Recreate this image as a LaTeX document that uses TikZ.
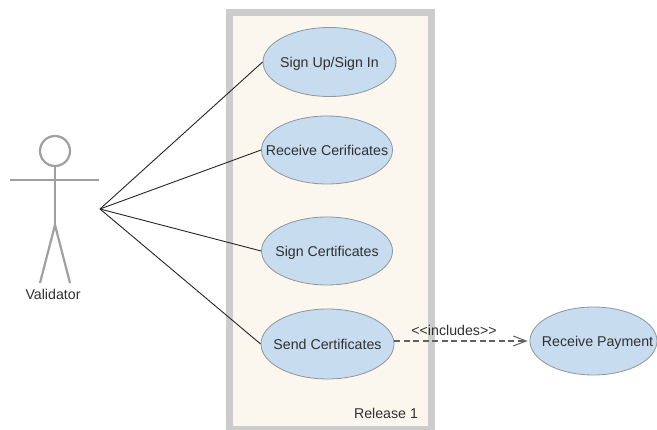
\documentclass[tikz,border=0pt]{standalone}
\usepackage{fontspec}
\setmainfont{Liberation Sans}
\usetikzlibrary{shapes.geometric,arrows.meta}
\definecolor{ufill}{HTML}{C8DCF0}
\definecolor{uline}{HTML}{8C969E}
\definecolor{frameg}{HTML}{CCCCCC}
\definecolor{paper}{HTML}{FCF7EE}
\definecolor{actorg}{HTML}{A0A0A0}
\definecolor{inkc}{HTML}{303030}
\newcommand{\uctext}[1]{\makebox[0pt]{\raisebox{-5.5pt}[0pt][0pt]{#1}}}
\tikzset{
  usecase/.style={ellipse,draw=uline,fill=ufill,line width=0.8pt,inner sep=0pt,text=inkc,font=\fontsize{14.2}{16}\selectfont},
  plain/.style={text=inkc,inner sep=0pt,font=\fontsize{14.2}{16}\selectfont},
  assoc/.style={draw=black!85,line width=0.9pt},
  actorline/.style={draw=actorg,line width=2.2pt},
  incl/.style={draw=black!62,line width=1.3pt,dash pattern=on 6pt off 3.5pt,shorten >=2pt,-{Straight Barb[length=13pt,width=10pt,line width=1pt]}}
}
\begin{document}
\begin{tikzpicture}[x=1pt,y=-1pt]
\useasboundingbox (0,0) rectangle (657,430);
\fill[white] (0,0) rectangle (657,430);
\draw[draw=frameg,fill=paper,line width=7pt] (229.5,12.5) rectangle (431.5,430);
\node[usecase,minimum width=133pt,minimum height=69pt] (signup) at (329.5,62) {\uctext{Sign Up/Sign In}};
\node[usecase,minimum width=131pt,minimum height=68pt] (recv) at (327,150) {\uctext{Receive Cerificates}};
\node[usecase,minimum width=131pt,minimum height=68pt] (sign) at (327,251) {\uctext{Sign Certificates}};
\node[usecase,minimum width=133pt,minimum height=70pt] (send) at (327.5,344) {\uctext{Send Certificates}};
\node[usecase,minimum width=127pt,minimum height=68pt] (pay) at (593.5,341) {\uctext{\hspace{8pt}Receive Payment}};
\coordinate (hub) at (100,209);
\draw[assoc] (hub) -- (signup.west);
\draw[assoc] (hub) -- (recv.west);
\draw[assoc] (hub) -- (sign.west);
\draw[assoc] (hub) -- (send.west);
\draw[incl] (send.east |- pay.west) -- (pay.west);
\node[plain] (incllabel) at (454,330) {<{}<includes>{}>};
\node[plain] (rel) at (386,413.5) {Release 1};
\node[circle,draw=actorg,line width=2.2pt,minimum size=30pt,inner sep=0pt] (head) at (55,151) {};
\coordinate (hip) at (55,225);
\coordinate (armL) at (10,180);
\coordinate (armR) at (99,180);
\coordinate (footL) at (40,283);
\coordinate (footR) at (70,283);
\draw[actorline] (head.south) -- (hip);
\draw[actorline] (armL) -- (armR);
\draw[actorline] (footL) -- (hip) -- (footR);
\node[plain] (actor) at (53,294) {Validator};
\end{tikzpicture}
\end{document}
